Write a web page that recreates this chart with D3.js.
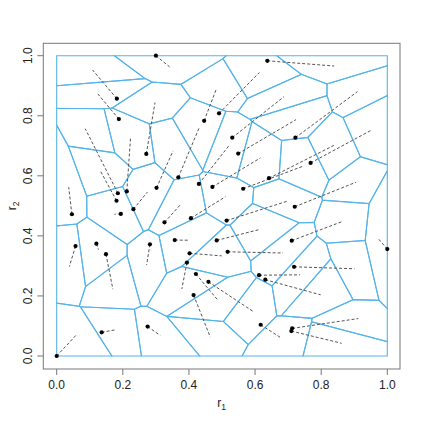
<!DOCTYPE html>
<html><head><meta charset="utf-8">
<script src="https://cdn.jsdelivr.net/npm/d3@7"></script>
<style>body{margin:0;background:#fff}svg{display:block}text{font-family:"Liberation Sans",Arial,sans-serif}</style>
</head><body>
<script>
// generator points (r1, r2)
const dotR1 = [0.300,0.637,0.182,0.188,0.491,0.446,0.531,0.549,0.722,0.271,0.768,0.368,0.642,0.430,0.471,0.564,0.302,0.185,0.212,0.181,0.232,0.720,
  0.046,0.194,0.326,0.406,0.514,0.057,0.120,0.149,0.282,0.357,0.484,0.402,0.517,0.394,0.421,0.459,0.414,0.612,0.631,0.711,0.718,1.000,0.617,0.7123,0.7097,0.136,0.275,0.000];
const dotR2 = [1.000,0.983,0.857,0.789,0.808,0.783,0.727,0.674,0.727,0.673,0.643,0.595,0.592,0.573,0.563,0.557,0.560,0.542,0.548,0.517,0.489,0.497,
  0.472,0.473,0.445,0.459,0.451,0.366,0.374,0.339,0.372,0.386,0.385,0.342,0.347,0.311,0.273,0.247,0.203,0.269,0.254,0.384,0.297,0.356,0.104,0.092,0.083,0.079,0.098,0.000];
const ticks = [0, 0.2, 0.4, 0.6, 0.8, 1.0];
const tickLabels = ["0.0","0.2","0.4","0.6","0.8","1.0"];

// ---- equal-area power (Laguerre) cells of the points in the unit square ----
const n = dotR1.length;
const P = dotR1.map((v,i)=>[v, dotR2[i]]);
const w = new Array(n).fill(0);
function clip(poly, a0, a1, b, j){
  const out=[], m=poly.length;
  for(let k=0;k<m;k++){
    const cur=poly[k], prev=poly[(k+m-1)%m];
    const fc=a0*cur[0]+a1*cur[1]-b, fp=a0*prev[0]+a1*prev[1]-b;
    if(fc<=0){
      if(fp>0){const t=fp/(fp-fc); out.push([prev[0]+t*(cur[0]-prev[0]), prev[1]+t*(cur[1]-prev[1]), prev[2]]);}
      out.push(cur);
    } else if(fp<=0){const t=fp/(fp-fc); out.push([prev[0]+t*(cur[0]-prev[0]), prev[1]+t*(cur[1]-prev[1]), j]);}
  }
  return out;
}
function powerCells(){
  return P.map((p,i)=>{
    let poly=[[0,0,-1],[1,0,-1],[1,1,-1],[0,1,-1]];
    const pi2=p[0]*p[0]+p[1]*p[1];
    for(let j=0;j<n && poly.length;j++){
      if(j===i) continue;
      const q=P[j];
      poly=clip(poly, 2*(q[0]-p[0]), 2*(q[1]-p[1]), q[0]*q[0]+q[1]*q[1]-pi2+w[i]-w[j], j);
    }
    return poly;
  });
}
let cells;
for(let it=0; it<8000; it++){
  cells=powerCells();
  let mx=0;
  const dw=new Array(n).fill(0);
  for(let i=0;i<n;i++){
    const c=cells[i];
    const A = c.length>2 ? Math.abs(d3.polygonArea(c)) : 0;
    let h=0;
    for(let k=0;k<c.length;k++){
      const j=c[k][2]; if(j<0) continue;
      const nx=c[(k+1)%c.length];
      h += Math.hypot(nx[0]-c[k][0], nx[1]-c[k][1])/(2*Math.hypot(P[j][0]-P[i][0], P[j][1]-P[i][1]));
    }
    if(h<=0) h=1;
    const e = 1/n - A; mx=Math.max(mx,Math.abs(e));
    dw[i]=0.6*e/h;
  }
  for(let i=0;i<n;i++) w[i]+=dw[i];
  if(mx<1e-9) break;
}
cells=powerCells().map(c=>c.map(v=>[v[0],v[1]]));

const W = 423, H = 423;
const x = d3.scaleLinear().domain([0,1]).range([56.7,387.3]);
const y = d3.scaleLinear().domain([0,1]).range([356,55.7]);
const svg = d3.select("body").append("svg").attr("width",W).attr("height",H);
const line = d3.line().x(d=>x(d[0])).y(d=>y(d[1]));

svg.append("g").selectAll("path").data(cells.filter(c=>c.length>2)).join("path")
  .attr("d", d=>line(d)+"Z").attr("fill","none").attr("stroke","#56B4E9").attr("stroke-width",1.1);

// dashed lines: point -> centroid of its cell
const idx = d3.range(n).filter(i=>cells[i].length>2);
svg.append("g").selectAll("line").data(idx).join("line")
  .attr("x1",i=>x(P[i][0])).attr("y1",i=>y(P[i][1]))
  .attr("x2",i=>x(d3.polygonCentroid(cells[i])[0])).attr("y2",i=>y(d3.polygonCentroid(cells[i])[1]))
  .attr("stroke","#555").attr("stroke-width",1).attr("stroke-dasharray","3,2");

svg.append("g").selectAll("circle").data(d3.range(n)).join("circle")
  .attr("cx",i=>x(P[i][0])).attr("cy",i=>y(P[i][1])).attr("r",2.1).attr("fill","#000");

// frame
svg.append("rect").attr("x",43.3).attr("y",43.3).attr("width",400-43.3).attr("height",369-43.3)
  .attr("fill","none").attr("stroke","#777").attr("stroke-width",1);

// x axis
const gx = svg.append("g").attr("transform","translate(0,369)");
gx.selectAll("line.t").data(ticks).join("line").attr("class","t")
  .attr("x1",d=>x(d)).attr("x2",d=>x(d)).attr("y1",0).attr("y2",6).attr("stroke","#777");
gx.selectAll("text").data(ticks).join("text").attr("x",d=>x(d)).attr("y",20)
  .attr("text-anchor","middle").attr("font-size",12).attr("fill","#222").text((d,i)=>tickLabels[i]);
const xl = svg.append("text").attr("x",221.7).attr("y",407).attr("text-anchor","middle").attr("font-size",12).attr("fill","#222");
xl.append("tspan").text("r");
xl.append("tspan").attr("font-size",8.5).attr("dy",3).text("1");

// y axis
const gy = svg.append("g").attr("transform","translate(43.3,0)");
gy.selectAll("line.t").data(ticks).join("line").attr("class","t")
  .attr("y1",d=>y(d)).attr("y2",d=>y(d)).attr("x1",0).attr("x2",-6).attr("stroke","#777");
gy.selectAll("text").data(ticks).join("text")
  .attr("transform",d=>`translate(-11,${y(d)}) rotate(-90)`)
  .attr("text-anchor","middle").attr("font-size",12).attr("fill","#222").text((d,i)=>tickLabels[i]);
const yl = svg.append("text").attr("transform","translate(16,206) rotate(-90)").attr("text-anchor","middle").attr("font-size",12).attr("fill","#222");
yl.append("tspan").text("r");
yl.append("tspan").attr("font-size",8.5).attr("dy",3).text("2");
</script>
</body></html>
